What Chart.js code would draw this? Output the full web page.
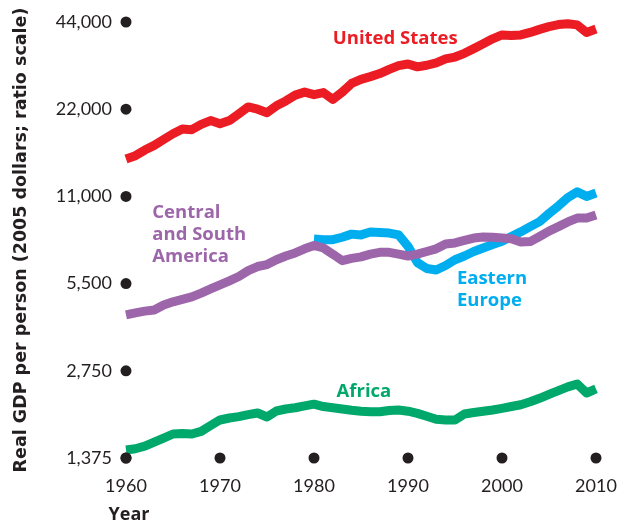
<!DOCTYPE html>
<html>
<head>
<meta charset="utf-8">
<script src="https://cdn.jsdelivr.net/npm/chart.js@4/dist/chart.umd.min.js"></script>
<style>
  html, body { margin: 0; padding: 0; background: #fff; }
  #wrap { width: 628px; height: 525px; }
</style>
</head>
<body>
<div id="wrap"><canvas id="gdpChart" width="628" height="525"></canvas></div>
<script>
// =============================
// DATA
// =============================
const years = [];
for (let y = 1960; y <= 2010; y++) years.push(y);

const yTicks = [1375, 2750, 5500, 11000, 22000, 44000];
const xTicks = [1960, 1970, 1980, 1990, 2000, 2010];

const unitedStates = [
  14800, 15200, 15900, 16500, 17300, 18100, 18800, 18700, 19500, 20100,
  19600, 20100, 21200, 22400, 22000, 21400, 22600, 23500, 24600, 25200,
  24700, 25100, 23800, 25200, 27000, 27900, 28500, 29200, 30200, 31100,
  31500, 30800, 31200, 31800, 32800, 33300, 34300, 35600, 37000, 38500,
  39700, 39500, 39700, 40500, 41500, 42400, 43100, 43400, 43000, 40500,
  41600
];

const centralSouthAmerica = [
  4290, 4360, 4420, 4460, 4640, 4760, 4850, 4950, 5100, 5270,
  5440, 5620, 5820, 6100, 6300, 6400, 6650, 6850, 7020, 7250,
  7450, 7300, 6950, 6600, 6720, 6800, 6950, 7050, 7050, 6950,
  6850, 6950, 7100, 7250, 7530, 7600, 7750, 7900, 7970, 7950,
  7900, 7850, 7650, 7680, 8000, 8350, 8650, 8980, 9260, 9260,
  9490
];

// no data before 1980
const easternEurope = [
  null, null, null, null, null, null, null, null, null, null,
  null, null, null, null, null, null, null, null, null, null,
  7840, 7800, 7800, 7950, 8150, 8100, 8290, 8250, 8220, 8100,
  7400, 6500, 6200, 6130, 6350, 6650, 6850, 7100, 7300, 7500,
  7700, 8000, 8300, 8650, 9000, 9600, 10200, 10900, 11400, 11000,
  11300
];

const africa = [
  1466, 1480, 1510, 1560, 1610, 1664, 1670, 1664, 1700, 1780,
  1860, 1890, 1910, 1940, 1966, 1905, 1998, 2030, 2050, 2080,
  2110, 2070, 2050, 2030, 2010, 1995, 1985, 1985, 2005, 2013,
  1995, 1960, 1915, 1870, 1860, 1860, 1950, 1975, 1995, 2013,
  2040, 2070, 2100, 2150, 2210, 2280, 2350, 2420, 2476, 2305,
  2380
];

const seriesNames = ['United States', 'Central and South America', 'Eastern Europe', 'Africa'];
const seriesColors = ['#ec1c24', '#9e66aa', '#00aeef', '#00a86b'];

// label text + where it sits (year, value) for each series
const seriesLabels = [
  { lines: ['United States'], year: 1982.0, value: 38400, color: '#ec1c24' },
  { lines: ['Central', 'and South', 'America'], year: 1962.8, value: 9640, color: '#9e66aa' },
  { lines: ['Eastern', 'Europe'], year: 1995.2, value: 5700, color: '#00aeef' },
  { lines: ['Africa'], year: 1982.4, value: 2335, color: '#00a86b' }
];

const TEXT = '#231f20';
const FONT = 'Lato, "DejaVu Sans", sans-serif';
const BOLD_FONT = '"Open Sans", "DejaVu Sans", sans-serif';

function toPoints(values) {
  return years.map((yr, i) => ({ x: yr, y: values[i] }));
}

// =============================
// PLUGIN: dots on axes + text labels
// =============================
const decorPlugin = {
  id: 'decor',
  afterDatasetsDraw(chart) {
    const { ctx, chartArea, scales } = chart;
    const xs = scales.x, ys = scales.y;

    ctx.save();
    ctx.fillStyle = TEXT;
    yTicks.forEach(v => {
      ctx.beginPath();
      ctx.arc(chartArea.left, ys.getPixelForValue(v), 5.5, 0, Math.PI * 2);
      ctx.fill();
    });
    xTicks.forEach(v => {
      ctx.beginPath();
      ctx.arc(xs.getPixelForValue(v), chartArea.bottom, 5.5, 0, Math.PI * 2);
      ctx.fill();
    });

    // series labels
    ctx.font = 'bold 18.5px ' + BOLD_FONT;
    ctx.textAlign = 'left';
    ctx.textBaseline = 'middle';
    seriesLabels.forEach(lab => {
      const px = xs.getPixelForValue(lab.year);
      const py = ys.getPixelForValue(lab.value);
      ctx.fillStyle = lab.color;
      lab.lines.forEach((t, i) => ctx.fillText(t, px, py + i * 22));
    });

    // x axis title
    ctx.fillStyle = TEXT;
    ctx.font = 'bold 18px ' + BOLD_FONT;
    ctx.textAlign = 'center';
    ctx.fillText('Year', 129, 515);
    ctx.restore();
  }
};

// =============================
// CHART
// =============================
const ctx = document.getElementById('gdpChart').getContext('2d');

const allSeries = [unitedStates, centralSouthAmerica, easternEurope, africa];

window.gdpChart = new Chart(ctx, {
  type: 'line',
  data: {
    datasets: allSeries.map((vals, i) => ({
      label: seriesNames[i],
      data: toPoints(vals),
      borderColor: seriesColors[i],
      backgroundColor: seriesColors[i],
      borderWidth: 9,
      borderCapStyle: 'butt',
      borderJoinStyle: 'round',
      pointRadius: 0,
      tension: 0,
      spanGaps: false,
      clip: false
    }))
  },
  options: {
    responsive: false,
    animation: false,
    layout: { padding: { top: 22, right: 32, left: 0, bottom: 0 } },
    plugins: {
      legend: { display: false },
      tooltip: { enabled: false }
    },
    scales: {
      x: {
        type: 'linear',
        min: 1960,
        max: 2010,
        afterBuildTicks: s => { s.ticks = xTicks.map(v => ({ value: v })); },
        afterFit: s => { s.height = 67; s.paddingLeft = 0; s.paddingRight = 0; },
        grid: { display: false, drawTicks: false },
        border: { display: false },
        ticks: {
          color: TEXT,
          padding: 17,
          font: { family: FONT, size: 18 },
          callback: v => String(v)
        }
      },
      y: {
        type: 'logarithmic',
        min: 1375,
        max: 44000,
        afterBuildTicks: s => { s.ticks = yTicks.map(v => ({ value: v })); },
        afterFit: s => { s.width = 126; s.paddingTop = 0; s.paddingBottom = 0; },
        grid: { display: false, drawTicks: false },
        border: { display: false },
        ticks: {
          color: TEXT,
          padding: 14,
          font: { family: FONT, size: 18 },
          callback: v => Number(v).toLocaleString('en-US')
        },
        title: {
          display: true,
          text: 'Real GDP per person (2005 dollars; ratio scale)',
          color: TEXT,
          font: { family: '"DejaVu Sans", sans-serif', size: 17.5, weight: 'bold' },
          padding: { top: 11, bottom: 0 }
        }
      }
    }
  },
  plugins: [decorPlugin]
});
</script>
</body>
</html>
